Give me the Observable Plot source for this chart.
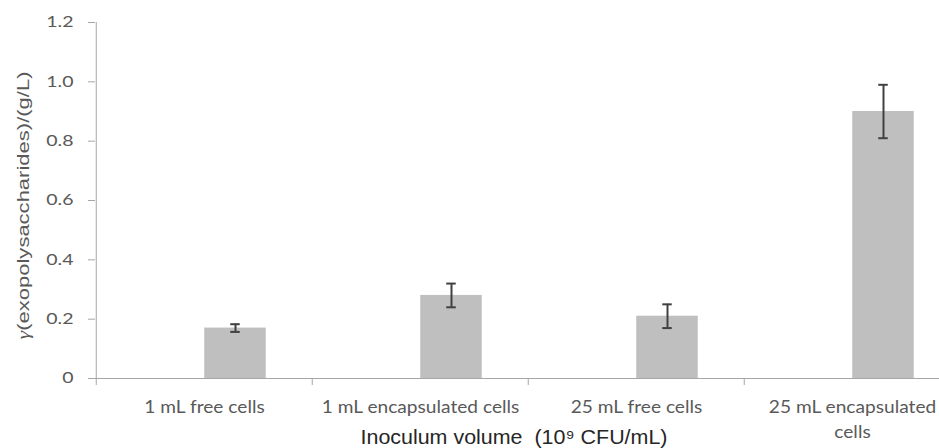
<!DOCTYPE html>
<html><head><meta charset="utf-8">
<script src="https://cdn.jsdelivr.net/npm/d3@7"></script>
<script src="https://cdn.jsdelivr.net/npm/@observablehq/plot@0.6"></script>
<style>body{margin:0;background:#fff}</style>
</head><body><div id="chart"></div>
<script>
const categories = ["1 mL free cells", "1 mL encapsulated cells", "25 mL free cells", "25 mL encapsulated cells"];
const categoryLabels = ["1 mL free cells", "1 mL encapsulated cells", "25 mL free cells", "25 mL encapsulated\ncells"];
const values = [0.17, 0.28, 0.21, 0.90];
const errors = [0.013, 0.04, 0.04, 0.09];
const yTicks = [0, 0.2, 0.4, 0.6, 0.8, 1.0, 1.2];
const yTickLabels = ["0", "0.2", "0.4", "0.6", "0.8", "1.0", "1.2"];
const yTitle = "γ(exopolysaccharides)/(g/L)";
const xTitle = "Inoculum volume  (10⁹ CFU/mL)";

const data = categories.map((c, i) => ({category: c, value: values[i], error: errors[i]}));

const W = 939, H = 448, ML = 95, XR = 961;
const step = (XR - ML) / categories.length;
const barW = 62, capW = 10;
const axisColor = "#a6a6a6", textColor = "#595959";

const chart = Plot.plot({
  width: W, height: H,
  marginLeft: ML, marginRight: 0, marginTop: 22, marginBottom: 70,
  style: {fontFamily: "Lato, 'Open Sans', sans-serif", fontSize: "16px", color: textColor, background: "white"},
  x: {domain: categories, range: [ML, XR], padding: 0, axis: null},
  y: {domain: [0, 1.2], axis: null},
  marks: [
    Plot.barY(data, {x: "category", y: "value", fill: "#bfbfbf", insetLeft: step / 2, insetRight: step / 2 - barW}),
    Plot.ruleX(data, {x: "category", y1: d => d.value - d.error, y2: d => d.value + d.error, dx: barW / 2, stroke: "#404040", strokeWidth: 2}),
    Plot.tickY(data, {x: "category", y: d => d.value - d.error, insetLeft: step / 2 + barW / 2 - capW / 2, insetRight: step / 2 - barW / 2 - capW / 2, stroke: "#404040", strokeWidth: 2}),
    Plot.tickY(data, {x: "category", y: d => d.value + d.error, insetLeft: step / 2 + barW / 2 - capW / 2, insetRight: step / 2 - barW / 2 - capW / 2, stroke: "#404040", strokeWidth: 2}),
    Plot.ruleY([0], {stroke: axisColor}),
    Plot.ruleX([categories[0]], {x: d => d, dx: -step / 2, y1: 0, y2: 1.2, stroke: axisColor}),
    Plot.axisY({ticks: yTicks, tickFormat: (d, i) => yTickLabels[i], tickSize: 7, tickPadding: 15, stroke: axisColor, fill: textColor, fontSize: 15,
      label: yTitle, labelAnchor: "center", labelArrow: "none", labelOffset: 79}),
    Plot.axisX({tickSize: 7, tickFormat: () => "", dx: -step / 2, stroke: axisColor, label: null}),
    Plot.axisX({tickSize: 0, tickPadding: 17, tickFormat: (d, i) => categoryLabels[i], fill: textColor, fontSize: 16.5, lineHeight: 1.5, label: null}),
    Plot.text([xTitle], {frameAnchor: "bottom", dx: -3.5, dy: 65, lineAnchor: "bottom", fontFamily: "'Liberation Sans', Arial, sans-serif", fontSize: 19.5, fill: "#262626"})
  ]
});
document.getElementById("chart").appendChild(chart);

// text widths as in the reference picture
chart.querySelectorAll("text").forEach(t => {
  const tr = t.getAttribute("transform") || "";
  if (t.textContent === yTitle) {
    t.textContent = "";
    const g = document.createElementNS("http://www.w3.org/2000/svg", "tspan");
    g.setAttribute("font-style", "italic");
    g.setAttribute("font-family", "'Liberation Serif', serif");
    g.textContent = "γ";
    const r = document.createElementNS("http://www.w3.org/2000/svg", "tspan");
    r.textContent = yTitle.slice(1);
    t.appendChild(g); t.appendChild(r);
    t.setAttribute("fill", textColor);
    t.setAttribute("font-family", "'Liberation Sans', Arial, sans-serif");
    t.setAttribute("font-size", "17px");
    t.setAttribute("textLength", "268");
    t.setAttribute("lengthAdjust", "spacingAndGlyphs");
    t.setAttribute("dx", "-5");
    return;
  }
  let s = 1.16;
  if (t.textContent === xTitle) s = 1.1;
  else if (yTickLabels.includes(t.textContent)) s = 1.3;
  t.setAttribute("transform", tr + ` scale(${s},1)`);
});
</script></body></html>
